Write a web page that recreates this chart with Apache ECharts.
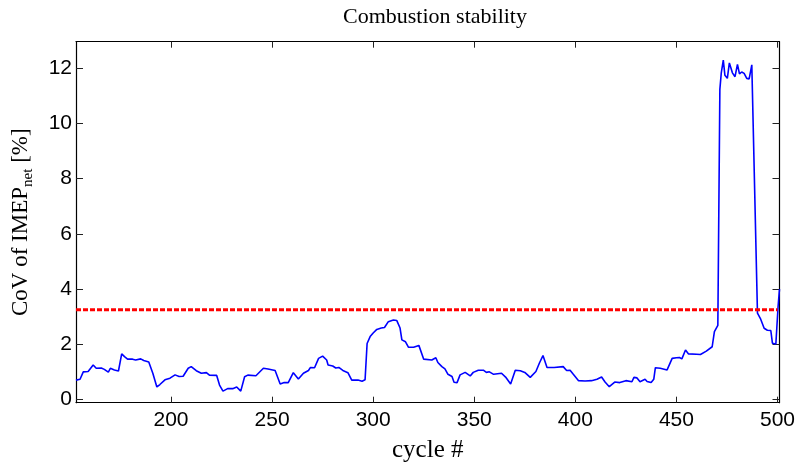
<!DOCTYPE html>
<html>
<head>
<meta charset="utf-8">
<script src="https://cdn.jsdelivr.net/npm/echarts@6/dist/echarts.min.js"></script>
<style>
  html, body { margin: 0; padding: 0; background: #fff; }
  #chart { width: 797px; height: 462px; }
</style>
</head>
<body>
<div id="chart"></div>
<script>
// cycle numbers and CoV of IMEP_net readings (%)
const cycles = [
  153, 155, 156.6, 159, 161.5, 163, 165.5, 167, 169, 170, 172, 174, 175.6, 177, 178.5, 181, 182.5, 185, 186.5, 189,
  191, 193, 194.5, 197, 199.5, 202, 204, 206, 208.5, 210, 212.5, 215, 217.5, 219, 222.6, 224, 225.7, 228, 230.5, 232.5,
  234.5, 236.4, 238, 242, 245.7, 248, 251.5, 254, 256, 258, 260.5, 263, 265.5, 268, 269, 271, 273, 275, 277, 277.7,
  280, 281.5, 283, 285, 287.5, 289.4, 292.5, 294.5, 296, 297, 298.5, 300, 301.8, 304, 305.6, 307.5, 310, 311.7, 313.3, 314.2,
  316, 317.5, 320, 322.6, 325, 329, 331, 332, 334, 335.5, 337, 339, 340, 341.5, 343, 345.5, 348, 349.5, 352, 354.5,
  356, 357.5, 359.6, 362.5, 363.5, 365.5, 368, 370.3, 372.8, 375, 377.7, 380.5, 382.3, 384, 386, 389.5, 394, 395.7, 397.4, 399,
  401.6, 404.8, 408, 410.7, 413, 414.7, 416.8, 419.5, 422, 425, 428, 429, 430.5, 432, 434.5, 435.5, 437.5, 438.8, 439.6, 442,
  445.4, 447.9, 450, 451.5, 452.7, 454.5, 456, 460, 461.9, 464.8, 467.7, 468.8, 470.5, 471.5, 472.2, 473.2, 474, 475.2, 476.2, 477.7,
  479, 480.2, 481.2, 482.3, 483.5, 484.8, 486, 487.3, 490.1, 491.7, 493.4, 495, 496.7, 497.5, 499.2, 500.3, 501
];
const cov = [
  0.69, 0.72, 0.99, 1.00, 1.24, 1.12, 1.13, 1.08, 0.98, 1.12, 1.06, 1.02, 1.64, 1.54, 1.45, 1.45, 1.42, 1.46, 1.40, 1.35,
  0.94, 0.44, 0.53, 0.70, 0.76, 0.88, 0.82, 0.83, 1.12, 1.18, 1.03, 0.94, 0.96, 0.87, 0.86, 0.51, 0.29, 0.38, 0.38, 0.44,
  0.29, 0.81, 0.87, 0.85, 1.12, 1.09, 1.04, 0.55, 0.60, 0.60, 0.96, 0.73, 0.94, 1.04, 1.15, 1.14, 1.48, 1.56, 1.42, 1.24,
  1.20, 1.13, 1.15, 1.04, 0.96, 0.69, 0.69, 0.65, 0.70, 2.02, 2.27, 2.40, 2.53, 2.58, 2.60, 2.81, 2.87, 2.85, 2.58, 2.15,
  2.08, 1.88, 1.88, 1.95, 1.45, 1.42, 1.50, 1.33, 1.18, 1.10, 0.90, 0.82, 0.61, 0.60, 0.88, 0.97, 0.84, 0.97, 1.05, 1.05,
  0.97, 0.99, 0.90, 0.93, 0.94, 0.80, 0.55, 1.05, 1.03, 0.97, 0.79, 1.00, 1.32, 1.58, 1.15, 1.15, 1.18, 1.04, 1.05, 0.90,
  0.67, 0.66, 0.67, 0.72, 0.80, 0.62, 0.45, 0.62, 0.60, 0.67, 0.63, 0.79, 0.77, 0.63, 0.72, 0.64, 0.60, 0.72, 1.14, 1.12,
  1.06, 1.48, 1.50, 1.51, 1.46, 1.78, 1.64, 1.63, 1.62, 1.74, 1.90, 2.45, 2.68, 11.24, 11.84, 12.30, 11.75, 11.64, 12.20, 11.84,
  11.70, 12.15, 11.80, 11.87, 11.82, 11.64, 11.62, 12.13, 3.12, 2.90, 2.57, 2.50, 2.49, 2.03, 2.00, 3.36, 3.99
];
const xTicks = [200, 250, 300, 350, 400, 450, 500];
const yTicks = [0, 2, 4, 6, 8, 10, 12];
const limitValue = 3.24;
const limitCycles = [153, 500];

const chart = echarts.init(document.getElementById('chart'));

const tickFont = { color: '#000', fontFamily: 'Liberation Sans, Arial, sans-serif', fontSize: 21 };
const serif = 'Liberation Serif, Times New Roman, serif';

function xAxisBase(pos) {
  return {
    type: 'value', position: pos, min: 153, max: 501,
    axisLine: { show: true, onZero: false, lineStyle: { color: '#000', width: 1.2 } },
    axisTick: { show: true, inside: true, length: 6, customValues: xTicks, lineStyle: { color: '#222' } },
    splitLine: { show: false }
  };
}
function yAxisBase(pos) {
  return {
    type: 'value', position: pos, min: -0.13, max: 12.97,
    axisLine: { show: true, onZero: false, lineStyle: { color: '#000', width: 1.2 } },
    axisTick: { show: true, inside: true, length: 7, customValues: yTicks, lineStyle: { color: '#222' } },
    splitLine: { show: false }
  };
}

chart.setOption({
  animation: false,
  backgroundColor: '#fff',
  title: {
    text: 'Combustion stability', left: 430, top: 1, textAlign: 'center',
    textStyle: { fontFamily: serif, fontSize: 22, fontWeight: 'normal', color: '#000' }
  },
  grid: { left: 76, right: 17.5, top: 41.7, bottom: 59.3, containLabel: false, outerBoundsMode: 'none' },
  xAxis: [
    Object.assign(xAxisBase('bottom'), {
      name: 'cycle #', nameLocation: 'middle', nameGap: 35,
      nameTextStyle: { fontFamily: serif, fontSize: 25, color: '#000' },
      axisLabel: Object.assign({ customValues: xTicks, margin: 7 }, tickFont)
    }),
    Object.assign(xAxisBase('top'), { axisLabel: { show: false } })
  ],
  yAxis: [
    Object.assign(yAxisBase('left'), {
      name: '{a|CoV of IMEP}{s|net}{a| [%]}', nameLocation: 'middle', nameGap: 40, nameRotate: 90,
      nameTextStyle: {
        rich: {
          a: { fontFamily: serif, fontSize: 23, color: '#000', lineHeight: 30, verticalAlign: 'middle' },
          s: { fontFamily: serif, fontSize: 15, color: '#000', verticalAlign: 'bottom' }
        }
      },
      axisLabel: Object.assign({ customValues: yTicks, margin: 4 }, tickFont)
    }),
    Object.assign(yAxisBase('right'), { axisLabel: { show: false } })
  ],
  series: [
    {
      type: 'line', xAxisIndex: 0, yAxisIndex: 0, symbol: 'none',
      data: cycles.map((c, i) => [c, cov[i]]),
      lineStyle: { color: '#0000ff', width: 1.6 }
    },
    {
      type: 'line', xAxisIndex: 0, yAxisIndex: 0, symbol: 'none',
      data: limitCycles.map(c => [c, limitValue]),
      lineStyle: { color: '#ff0000', width: 3, type: [5, 2] }
    }
  ]
});
</script>
</body>
</html>
